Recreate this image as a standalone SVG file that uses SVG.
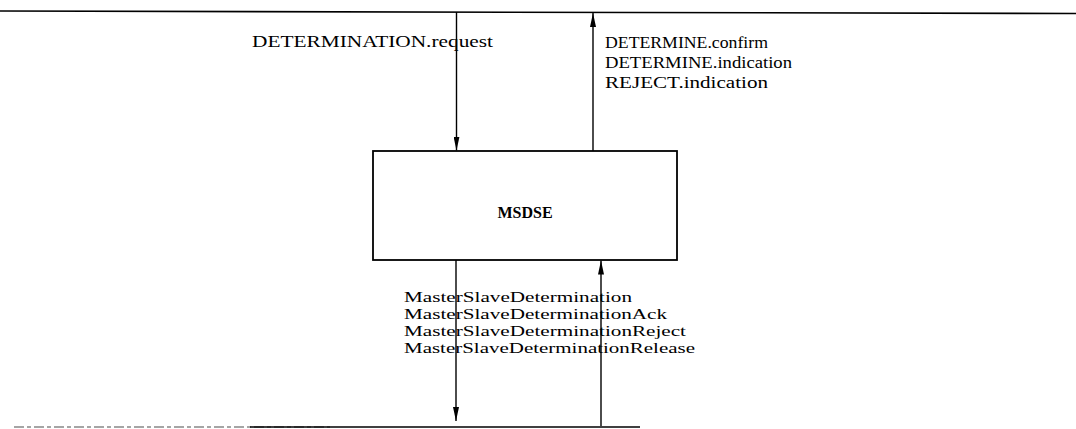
<svg xmlns="http://www.w3.org/2000/svg" width="1076" height="429" viewBox="0 0 1076 429">
  <style>
    .lbl { font-family: "Liberation Serif", "Times New Roman", serif; font-size: 17px; fill: #000; }
    .small { font-size: 15.5px; }
    .node rect { fill: #fff; stroke: #000; stroke-width: 1.8; }
    .node text { font-family: "Liberation Serif", "Times New Roman", serif; font-size: 16px; font-weight: bold; fill: #000; }
    .wire { stroke: #000; stroke-width: 1.4; fill: none; }
    .rail { stroke: #000; stroke-width: 1.6; fill: none; }
  </style>
  <defs>
    <!-- slim filled arrowhead, drawn along +x and turned with the line -->
    <marker id="head" viewBox="0 0 14 6" refX="14" refY="3" markerWidth="14" markerHeight="6" markerUnits="userSpaceOnUse" orient="auto">
      <path d="M0,0 L14,3 L0,6 Z" fill="#000"/>
    </marker>
  </defs>

  <!-- service boundary rails -->
  <g id="rails">
    <line class="rail" x1="0" y1="11" x2="1076" y2="13.5"/>
    <line x1="14" y1="427" x2="330" y2="427" stroke="#888" stroke-width="1.4" stroke-dasharray="10 3 4 3"/>
    <line class="rail" x1="250" y1="427" x2="640" y2="427"/>
  </g>

  <g id="connectors">
    <!-- primitives between user and MSDSE -->
    <line class="wire" x1="456.5" y1="12" x2="456.5" y2="150.5" marker-end="url(#head)"/>
    <line class="wire" x1="593" y1="151" x2="593" y2="13" marker-end="url(#head)"/>
    <!-- messages between MSDSE and peer -->
    <line class="wire" x1="456" y1="260" x2="456" y2="421" marker-end="url(#head)"/>
    <line class="wire" x1="601" y1="426" x2="601" y2="260.5" marker-end="url(#head)"/>
  </g>

  <g id="msdse" class="node">
    <rect x="373" y="151" width="304" height="109"/>
    <text x="525" y="218" text-anchor="middle">MSDSE</text>
  </g>

  <g id="labels">
    <text class="lbl" x="252" y="47" textLength="241" lengthAdjust="spacingAndGlyphs">DETERMINATION.request</text>
    <text class="lbl" x="605" y="48" textLength="163" lengthAdjust="spacingAndGlyphs">DETERMINE.confirm</text>
    <text class="lbl" x="605" y="68" textLength="187" lengthAdjust="spacingAndGlyphs">DETERMINE.indication</text>
    <text class="lbl" x="605" y="88" textLength="163" lengthAdjust="spacingAndGlyphs">REJECT.indication</text>

    <text class="lbl small" x="404" y="302" textLength="228" lengthAdjust="spacingAndGlyphs">MasterSlaveDetermination</text>
    <text class="lbl small" x="404" y="319" textLength="263" lengthAdjust="spacingAndGlyphs">MasterSlaveDeterminationAck</text>
    <text class="lbl small" x="404" y="336" textLength="282" lengthAdjust="spacingAndGlyphs">MasterSlaveDeterminationReject</text>
    <text class="lbl small" x="404" y="353" textLength="291" lengthAdjust="spacingAndGlyphs">MasterSlaveDeterminationRelease</text>
  </g>
</svg>
